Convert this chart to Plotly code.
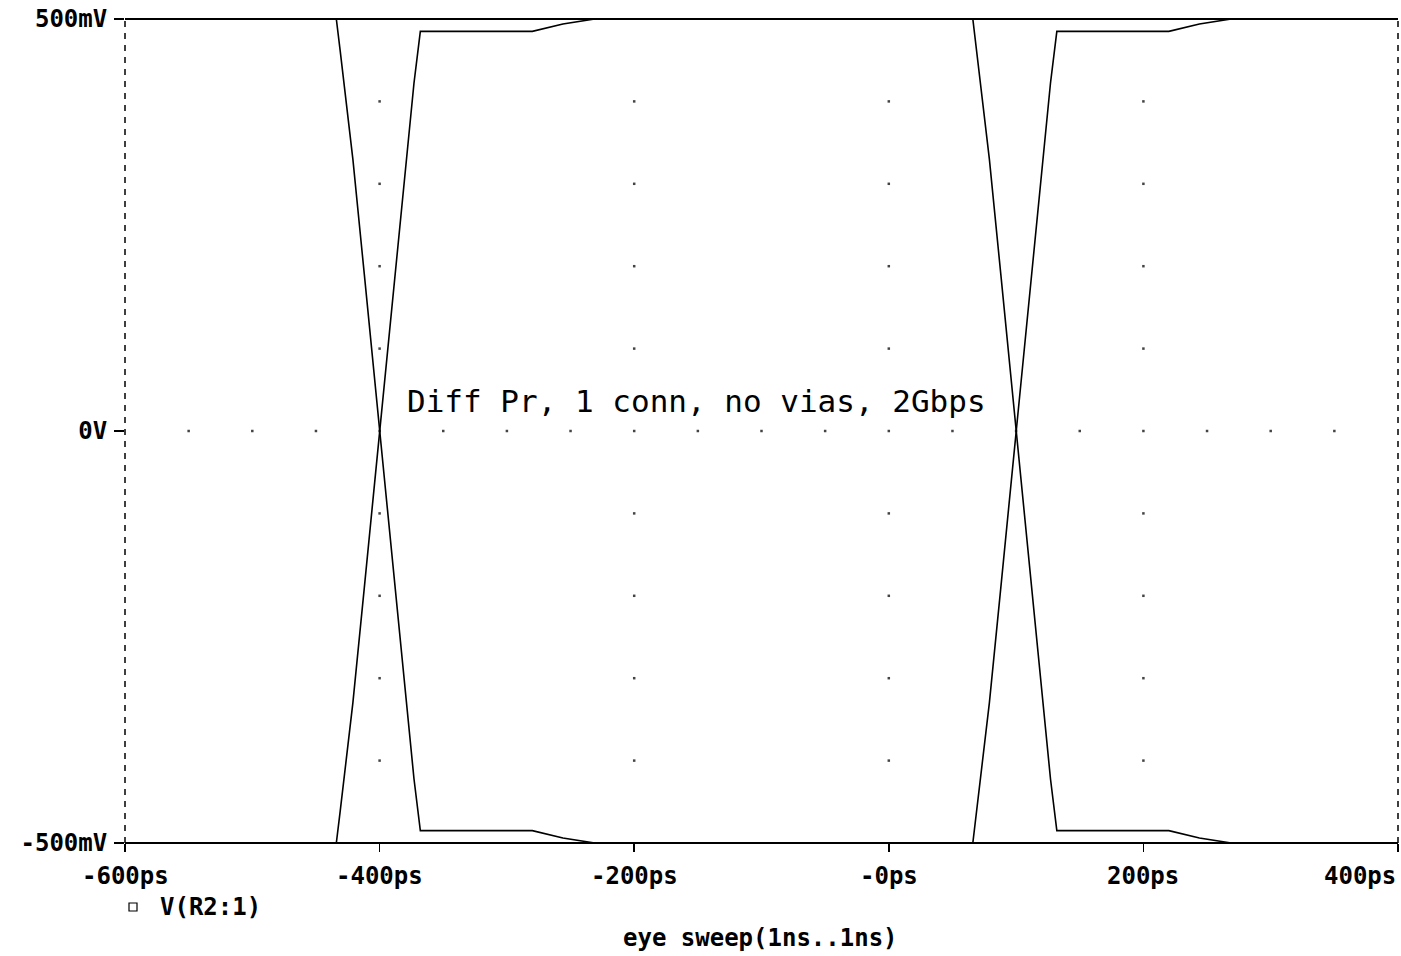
import plotly.graph_objects as go

# ---- waveform data (ps, mV) ----
time_a_ps = [-600, -434, -431, -427, -421, -412, -400, -386, -373, -368, -280, -256, -231,
             66, 69, 73, 79, 88, 100, 114, 127, 132, 220, 244, 269, 400]
volt_a_mv = [500, 500, 462, 408, 330, 190, 0, -215, -422, -485, -485, -494, -500,
             -500, -462, -408, -330, -190, 0, 215, 422, 485, 485, 494, 500, 500]

time_b_ps = [-600, -434, -431, -427, -421, -412, -400, -386, -373, -368, -280, -256, -231,
             66, 69, 73, 79, 88, 100, 114, 127, 132, 220, 244, 269, 400]
volt_b_mv = [-500, -500, -462, -408, -330, -190, 0, 215, 422, 485, 485, 494, 500,
             500, 462, 408, 330, 190, 0, -215, -422, -485, -485, -494, -500, -500]

# ---- axes ----
x_tick_vals = [-600, -400, -200, 0, 200, 400]
x_tick_text = ["-600ps", "-400ps", "-200ps", "-0ps", "200ps", "400ps"]
y_tick_vals = [-500, 0, 500]
y_tick_text = ["-500mV", "0V", "500mV"]

# ---- dotted grid ----
grid_col_x = [-400, -200, 0, 200]
grid_row_y = [-400, -300, -200, -100, 100, 200, 300, 400]
zero_row_x = [-550, -500, -450, -400, -350, -300, -250, -200, -150, -100, -50,
              0, 50, 100, 150, 200, 250, 300, 350]

legend_label = "V(R2:1)"
x_title = "eye sweep(1ns..1ns)"
note_text = "Diff Pr, 1 conn, no vias, 2Gbps"

BOLD = dict(family="DejaVu Sans Mono", size=24, color="black", weight="bold")

fig = go.Figure()

gx = [x for x in grid_col_x for _ in grid_row_y] + zero_row_x
gy = [y for _ in grid_col_x for y in grid_row_y] + [0] * len(zero_row_x)
fig.add_trace(go.Scatter(x=gx, y=gy, mode="markers",
                         marker=dict(size=2.5, color="#444444", symbol="square"),
                         showlegend=False, hoverinfo="skip"))

fig.add_trace(go.Scatter(x=time_a_ps, y=volt_a_mv, mode="lines",
                         line=dict(color="black", width=1.6), showlegend=False))
fig.add_trace(go.Scatter(x=time_b_ps, y=volt_b_mv, mode="lines",
                         line=dict(color="black", width=1.6), showlegend=False))

W, H = 1401, 956
PL, PR, PT, PB = 125, 1398, 19, 843          # plot area in screen pixels
L, T, R, B = PL, PT, W - PR, H - PB
pw, ph = PR - PL, PB - PT

def px(xp):
    return (xp - PL) / pw

def py(yp):
    return (PB - yp) / ph

shapes = [
    dict(type="line", xref="paper", yref="paper", x0=0, x1=1, y0=1, y1=1,
         line=dict(color="black", width=2)),
    dict(type="line", xref="paper", yref="paper", x0=0, x1=1, y0=0, y1=0,
         line=dict(color="black", width=2)),
    dict(type="line", xref="paper", yref="paper", x0=0, x1=0, y0=0, y1=1,
         line=dict(color="black", width=1.5, dash="6px,6px")),
    dict(type="line", xref="paper", yref="paper", x0=1, x1=1, y0=0, y1=1,
         line=dict(color="black", width=1.5, dash="6px,6px")),
    dict(type="rect", xref="paper", yref="paper", x0=px(129), x1=px(137),
         y0=py(911), y1=py(903), line=dict(color="black", width=1.2),
         fillcolor="white"),
]

annotations = []
for v, t in zip(x_tick_vals, x_tick_text):
    last = v == x_tick_vals[-1]
    annotations.append(dict(x=v, y=0, xref="x", yref="paper", text=t,
                            showarrow=False, xanchor="right" if last else "center",
                            yanchor="middle", yshift=-33, font=BOLD))
annotations.append(dict(x=px(158), y=py(907), xref="paper", yref="paper",
                        text=legend_label, showarrow=False, xanchor="left",
                        yanchor="middle", font=BOLD))
annotations.append(dict(x=px(760), y=py(938), xref="paper", yref="paper",
                        text=x_title, showarrow=False, xanchor="center",
                        yanchor="middle", font=BOLD))
annotations.append(dict(x=-380, y=36, xref="x", yref="y", text=note_text,
                        showarrow=False, xanchor="left", yanchor="middle",
                        font=dict(family="DejaVu Sans Mono", size=31, color="black")))

fig.update_layout(
    width=W, height=H, autosize=False,
    margin=dict(l=L, r=R, t=T, b=B, pad=0),
    paper_bgcolor="white", plot_bgcolor="white",
    shapes=shapes, annotations=annotations,
    xaxis=dict(range=[-600, 400], showgrid=False, zeroline=False, showline=False,
               ticks="outside", ticklen=8, tickwidth=1.5, tickcolor="black",
               tickvals=x_tick_vals, showticklabels=False, fixedrange=True),
    yaxis=dict(range=[-500, 500], showgrid=False, zeroline=False, showline=False,
               ticks="outside", ticklen=10, tickwidth=1.5, tickcolor="black",
               tickvals=y_tick_vals, ticktext=y_tick_text, tickfont=BOLD,
               ticklabelstandoff=2, ticklabeloverflow="allow", fixedrange=True),
)

fig.write_html(
    "out.html",
    config={"displayModeBar": False, "staticPlot": True},
    post_script="document.body.style.margin='0';"
                "document.body.style.overflow='hidden';"
                "document.documentElement.style.overflow='hidden';",
)
